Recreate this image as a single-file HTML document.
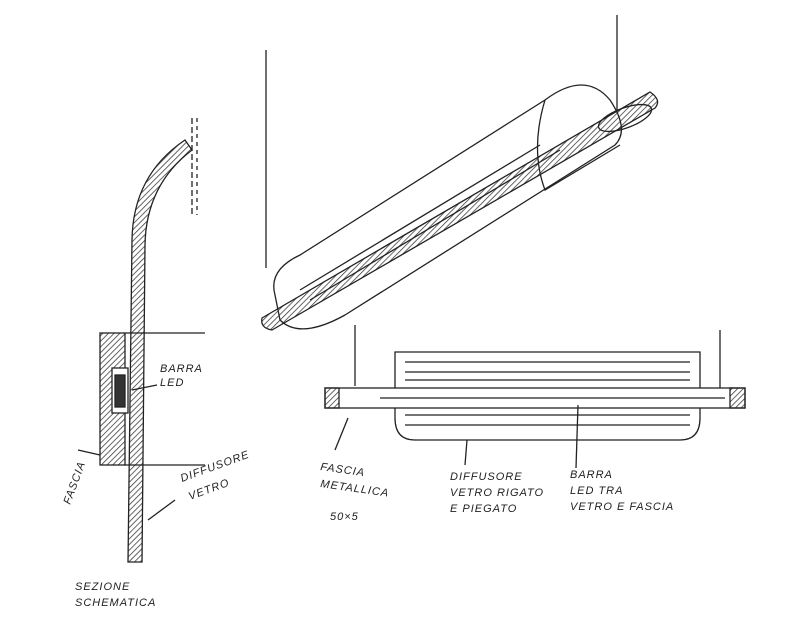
<!DOCTYPE html>
<html><head><style>
html,body{margin:0;padding:0;background:#fff;}
svg{display:block;}
text{font-family:"Liberation Sans",sans-serif;font-size:11px;fill:#222;letter-spacing:1px;font-style:italic;}
</style></head><body>
<svg width="800" height="640" viewBox="0 0 800 640" xmlns="http://www.w3.org/2000/svg">
<defs>
<pattern id="h" width="4" height="4" patternUnits="userSpaceOnUse" patternTransform="rotate(45)">
<line x1="0" y1="0" x2="0" y2="4" stroke="#333" stroke-width="1.5"/></pattern>
</defs>
<g fill="none" stroke="#222" stroke-width="1.3">
<!-- left section -->
<path d="M128 562 L132 240 Q133 175 185 140 L192 150 Q146 185 145 245 L142 562 Z" fill="url(#h)"/>
<line x1="192" y1="118" x2="192" y2="215" stroke-dasharray="6 3"/>
<line x1="197" y1="118" x2="197" y2="215" stroke-dasharray="4 4"/>
<rect x="100" y="333" width="25" height="132" fill="url(#h)"/>
<rect x="112" y="368" width="16" height="45" fill="#fff"/>
<rect x="115" y="375" width="10" height="32" fill="#333"/>
<line x1="125" y1="333" x2="205" y2="333"/>
<line x1="125" y1="465" x2="205" y2="465"/>
<line x1="157" y1="385" x2="132" y2="390"/>
<line x1="78" y1="450" x2="100" y2="455"/>
<line x1="175" y1="500" x2="148" y2="520"/>
<!-- top right lamp -->
<line x1="266" y1="50" x2="266" y2="268"/>
<line x1="617" y1="15" x2="617" y2="140"/>
<path d="M275 295 Q268 270 300 255 L545 100 Q585 70 610 100 Q630 130 615 145 L345 315 Q300 340 280 320 Z" fill="#fff"/>
<path d="M545 100 Q530 150 545 190 L620 145"/>
<path d="M262 318 L650 92 Q662 100 655 108 L272 330 Q260 328 262 318 Z" fill="url(#h)"/>
<ellipse cx="625" cy="118" rx="28" ry="10" transform="rotate(-20 625 118)"/>
<line x1="300" y1="290" x2="540" y2="145"/>
<line x1="310" y1="300" x2="560" y2="150"/>
<!-- bottom right -->
<line x1="355" y1="325" x2="355" y2="386"/>
<line x1="720" y1="330" x2="720" y2="388"/>
<path d="M395 352 L700 352 L700 418 Q700 440 680 440 L415 440 Q395 440 395 418 Z" fill="#fff"/>
<line x1="405" y1="362" x2="690" y2="362"/>
<line x1="405" y1="372" x2="690" y2="372"/>
<line x1="405" y1="380" x2="690" y2="380"/>
<line x1="405" y1="415" x2="690" y2="415"/>
<line x1="405" y1="425" x2="690" y2="425"/>
<rect x="325" y="388" width="420" height="20" fill="#fff"/>
<rect x="325" y="388" width="14" height="20" fill="url(#h)"/>
<rect x="730" y="388" width="15" height="20" fill="url(#h)"/>
<line x1="380" y1="398" x2="725" y2="398"/>
<line x1="335" y1="450" x2="348" y2="418"/>
<line x1="465" y1="465" x2="467" y2="440"/>
<line x1="576" y1="468" x2="578" y2="405"/>
</g>
<text x="160" y="372">BARRA</text>
<text x="160" y="386">LED</text>
<text transform="translate(70 505) rotate(-70)">FASCIA</text>
<text transform="translate(182 482) rotate(-20)">DIFFUSORE</text>
<text transform="translate(190 500) rotate(-20)">VETRO</text>
<text x="75" y="590">SEZIONE</text>
<text x="75" y="606">SCHEMATICA</text>
<text x="320" y="470" transform="rotate(8 320 470)">FASCIA</text>
<text x="320" y="487" transform="rotate(8 320 487)">METALLICA</text>
<text x="330" y="520">50×5</text>
<text x="450" y="480">DIFFUSORE</text>
<text x="450" y="496">VETRO RIGATO</text>
<text x="450" y="512">E PIEGATO</text>
<text x="570" y="478">BARRA</text>
<text x="570" y="494">LED TRA</text>
<text x="570" y="510">VETRO E FASCIA</text>
</svg>
</body></html>
